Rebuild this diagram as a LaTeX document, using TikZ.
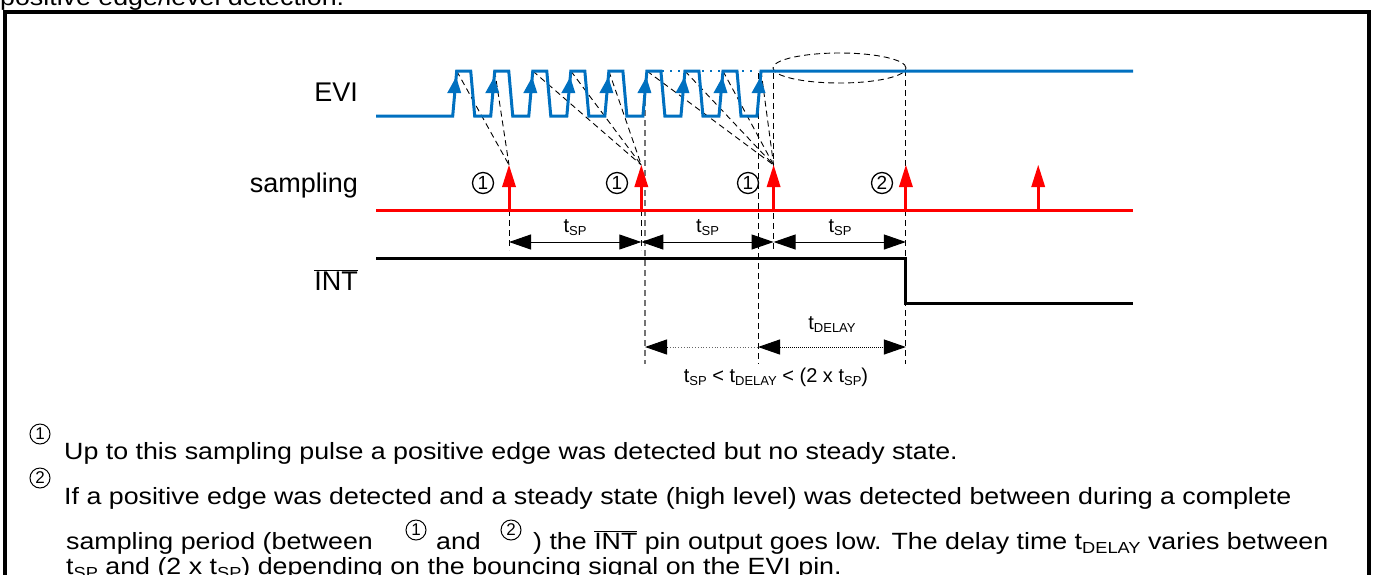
\documentclass[tikz,border=0pt]{standalone}
\usepackage{fontspec}
\setmainfont{Liberation Sans}
\newfontfamily\notefont[FakeStretch=1.14]{Liberation Sans}
\usetikzlibrary{arrows.meta,calc}
\definecolor{evib}{HTML}{0070C0}
\definecolor{sred}{HTML}{FF0000}
\newcommand\tsub[4]{t\raisebox{#3}{\fontsize{#2}{#2}\selectfont #4}}
\begin{document}
\begin{tikzpicture}[x=1pt,y=-1pt,
  dsh/.style={black,line width=0.9pt,dash pattern=on 6pt off 4pt},
  gdsh/.style={black!55,line width=1.3pt,dash pattern=on 6pt off 4pt},
  lbl/.style={font=\fontsize{27}{30}\selectfont,anchor=east,inner sep=0},
  txt/.style={font=\notefont\fontsize{23.5}{28}\selectfont,anchor=base west,inner sep=0},
  cnum/.style={circle,draw,line width=1.3pt,minimum size=21pt,inner sep=0,font=\fontsize{19}{19}\selectfont},
  tnum/.style={circle,draw,line width=1pt,minimum size=20pt,inner sep=0,font=\fontsize{17}{17}\selectfont},
  dim/.style={line width=1pt,{Triangle[length=22pt,width=15pt]}-{Triangle[length=22pt,width=15pt]}},
]
\useasboundingbox (0,0) rectangle (1375,574);
\clip (0,0) rectangle (1375,574);
% frame and title
\draw[line width=4.5pt] (5,600) -- (5,12) -- (1369,12) -- (1369,600);
\node[txt] (title) at (0,5) {positive edge/level detection.};
% labels
\node[lbl] (levi) at (358,92) {EVI};
\node[lbl] (lsamp) at (358,186) {sampling};
\node[lbl] (lint) at (358,280) {$\overline{\mbox{INT}}$};
% coordinates
\foreach \k in {0,...,8} {
  \coordinate (src\k) at ({456.7+38.04*\k},71);
}
\foreach \j in {0,...,4} {
  \coordinate (tip\j) at ({509+132.3*\j},165);
  \coordinate (base\j) at ({509+132.3*\j},210);
}
% vertical dashed guides
\draw[dsh] (base0) -- ++(0,40);
\draw[dsh] (base1) -- ++(0,40);
\draw[gdsh] (645,80) -- (645,364);
\draw[dsh] (758,73) -- (758,364);
\draw[dsh] (773.6,73) -- (773.6,250);
\draw[dsh] (905.9,70) -- (905.9,364);
% ellipse
\draw[dsh] (839.5,68) ellipse [x radius=66.5pt, y radius=15pt];
% dashed source lines
\foreach \k in {0,1} \draw[dsh] (src\k) -- (tip0);
\foreach \k in {2,3,4} \draw[dsh] (src\k) -- (tip1);
\foreach \k in {5,6,7,8} \draw[dsh] (src\k) -- (tip2);
% EVI waveform
\draw[evib,line width=3pt,line join=miter] (376,116)
  \foreach \k in {0,...,7} { -- ({452.7+38.04*\k},116) -- ({456.7+38.04*\k},71) -- ({470.7+38.04*\k},71) -- ({474.7+38.04*\k},116) }
  -- (757,116) -- (761,71) -- (1133,71);
\draw[evib,line width=2pt,dash pattern=on 2pt off 6pt] (662,71) -- (758,71);
\foreach \k in {0,...,8} {
  \fill[evib] ({452.7+38.04*\k+1.5-7},93) -- ({452.7+38.04*\k+3.4},77) -- ({452.7+38.04*\k+1.5+7},93) -- cycle;
}
% sampling
\draw[sred,line width=3pt] (376,210) -- (1133,210);
\foreach \j in {0,...,4} {
  \draw[sred,line width=3pt] (base\j) -- ++(0,-25);
  \fill[sred] ($(tip\j)+(-7,22)$) -- (tip\j) -- ($(tip\j)+(7,22)$) -- cycle;
}
\node[cnum] (c1a) at (483,183) {1};
\node[cnum] (c1b) at (617,183) {1};
\node[cnum] (c1c) at (748,183) {1};
\node[cnum] (c2a) at (882,183) {2};
% INT
\draw[line width=3pt] (376,258) -- (905.9,258) -- (905.9,303) -- (1133,303);
% tSP dims
\draw[dim] (509,242) -- (641.3,242);
\draw[dim] (641.3,242) -- (773.6,242);
\draw[dim] (773.6,242) -- (905.9,242);
\node[font=\fontsize{20}{20}\selectfont] (tsp1) at (575,228) {\tsub{}{13}{-3pt}{SP}};
\node[font=\fontsize{20}{20}\selectfont] (tsp2) at (707.5,228) {\tsub{}{13}{-3pt}{SP}};
\node[font=\fontsize{20}{20}\selectfont] (tsp3) at (840,228) {\tsub{}{13}{-3pt}{SP}};
% tDELAY
\draw[black!60,line width=0.8pt,dotted] (667,347) -- (758,347);
\draw[line width=1pt,-{Triangle[length=22pt,width=15pt]}] (667,347) -- (645,347);
\draw[dim,densely dotted] (758,347) -- (905.9,347);
\node[font=\fontsize{20}{20}\selectfont] (tdl) at (832,325) {\tsub{}{13}{-3pt}{DELAY}};
\node[font=\fontsize{20}{20}\selectfont] (form) at (776,377) {\tsub{}{13}{-3pt}{SP} < \tsub{}{13}{-3pt}{DELAY} < (2 x \tsub{}{13}{-3pt}{SP})};
% notes
\node[tnum] (n1) at (40,434) {1};
\node[txt] (l1) at (64,459) {Up to this sampling pulse a positive edge was detected but no steady state.};
\node[tnum] (n2) at (40,478) {2};
\node[txt] (l2) at (64,504) {If a positive edge was detected and a steady state (high level) was detected between during a complete};
\node[txt] (l3a) at (66,549) {sampling period (between};
\node[tnum] (n3) at (416,530) {1};
\node[txt] (l3b) at (436,549) {and};
\node[tnum] (n4) at (511,530) {2};
\node[txt] (l3c) at (533,549) {) the $\overline{\mbox{INT}}$ pin output goes low. The delay time \tsub{}{16}{-4pt}{DELAY} varies between};
\node[txt] (l4) at (66,574) {\tsub{}{16}{-4pt}{SP} and (2 x \tsub{}{16}{-4pt}{SP}) depending on the bouncing signal on the EVI pin.};
\end{tikzpicture}
\end{document}
